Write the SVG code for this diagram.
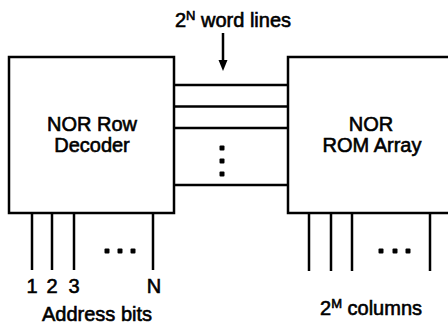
<svg xmlns="http://www.w3.org/2000/svg" width="448" height="324" viewBox="0 0 448 324">
<defs>
<style>
.box{fill:#fff;stroke:#000;stroke-width:2.5}
.ln{stroke:#000;stroke-width:2.5;fill:none}
.t{font-family:"Liberation Sans",Arial,sans-serif;font-size:20px;fill:#000;stroke:#000;stroke-width:0.6;text-anchor:middle}
.sup{font-size:13px}
.dot{fill:#000}
</style>
</defs>
<rect width="448" height="324" fill="#fff"/>
<g id="decoder">
<rect class="box" x="9" y="57" width="165" height="156"/>
<text class="t" x="92" y="131">NOR Row</text>
<text class="t" x="92" y="152">Decoder</text>
</g>
<g id="rom">
<rect class="box" x="288" y="57" width="170" height="156"/>
<text class="t" x="371" y="131">NOR</text>
<text class="t" x="372" y="152">ROM Array</text>
</g>
<g id="connectors">
<line class="ln" x1="174" y1="85" x2="288" y2="85"/>
<line class="ln" x1="174" y1="106.5" x2="288" y2="106.5"/>
<line class="ln" x1="174" y1="128" x2="288" y2="128"/>
<line class="ln" x1="174" y1="185" x2="288" y2="185"/>
<rect class="dot" x="219.5" y="145.5" width="5" height="5" rx="1"/>
<rect class="dot" x="219.5" y="158.5" width="5" height="5" rx="1"/>
<rect class="dot" x="219.5" y="171.5" width="5" height="5" rx="1"/>
<line class="ln" x1="223" y1="33" x2="223" y2="62" stroke-width="2"/>
<path d="M218.5,60 L227.5,60 L223,71 Z" fill="#000"/>
<line class="ln" x1="32" y1="213" x2="32" y2="270"/>
<line class="ln" x1="52" y1="213" x2="52" y2="270"/>
<line class="ln" x1="74" y1="213" x2="74" y2="270"/>
<line class="ln" x1="153" y1="213" x2="153" y2="270"/>
<rect class="dot" x="104.5" y="248.5" width="5" height="5" rx="1"/>
<rect class="dot" x="117.5" y="248.5" width="5" height="5" rx="1"/>
<rect class="dot" x="130.5" y="248.5" width="5" height="5" rx="1"/>
<line class="ln" x1="309" y1="213" x2="309" y2="271"/>
<line class="ln" x1="331" y1="213" x2="331" y2="271"/>
<line class="ln" x1="352" y1="213" x2="352" y2="271"/>
<line class="ln" x1="430" y1="213" x2="430" y2="271"/>
<rect class="dot" x="378.5" y="248.5" width="5" height="5" rx="1"/>
<rect class="dot" x="392.5" y="248.5" width="5" height="5" rx="1"/>
<rect class="dot" x="405.5" y="248.5" width="5" height="5" rx="1"/>
</g>
<g id="labels">
<text class="t" x="233" y="27">2<tspan class="sup" dy="-7">N</tspan><tspan dy="7"> word lines</tspan></text>
<text class="t" x="32" y="293">1</text>
<text class="t" x="52" y="293">2</text>
<text class="t" x="74" y="293">3</text>
<text class="t" x="154" y="293">N</text>
<text class="t" x="97" y="321">Address bits</text>
<text class="t" x="371" y="315">2<tspan class="sup" dy="-7">M</tspan><tspan dy="7"> columns</tspan></text>
</g>
</svg>
